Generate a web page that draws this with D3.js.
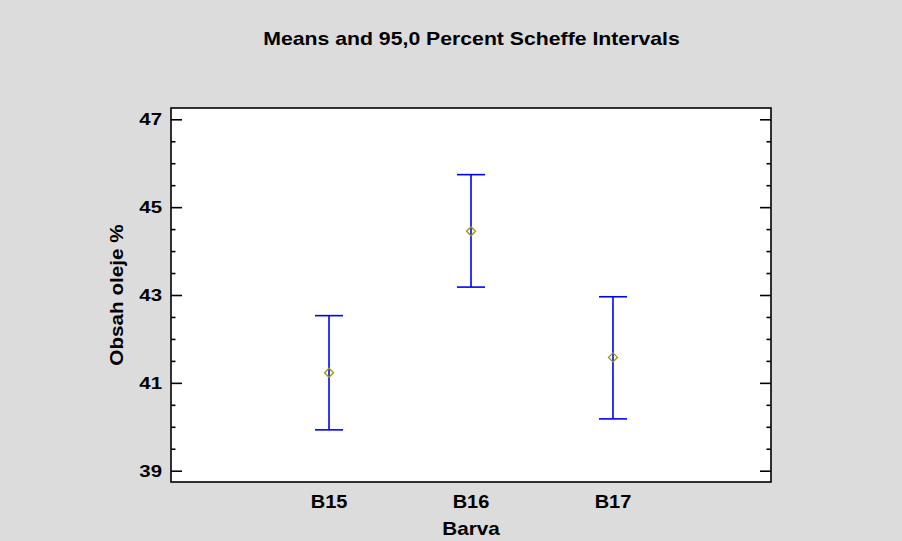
<!DOCTYPE html>
<html>
<head>
<meta charset="utf-8">
<script src="https://cdn.jsdelivr.net/npm/d3@7"></script>
<style>
  body { margin: 0; background: #dcdcdc; }
  svg { display: block; }
  text { font-family: "Liberation Sans", Arial, sans-serif; font-weight: bold; fill: #000; }
</style>
</head>
<body>
<svg id="chart" width="902" height="541"></svg>
<script>
const categories = ["B15", "B16", "B17"];
const means = [41.23, 44.45, 41.58];
const lower = [39.93, 43.18, 40.18];
const upper = [42.53, 45.74, 42.96];
const y_ticks = [39, 41, 43, 45, 47];
const y_minor = [39.5, 40, 40.5, 41.5, 42, 42.5, 43.5, 44, 44.5, 45.5, 46, 46.5];

const width = 902;
const height = 541;
const margin = { top: 108, right: 131, bottom: 59, left: 171 };

const svg = d3.select("#chart");
svg.append("rect").attr("width", width).attr("height", height).attr("fill", "#dcdcdc");

const x = d3
  .scaleLinear()
  .domain([-0.113, 4.113])
  .range([margin.left, width - margin.right]);

const y = d3
  .scaleLinear()
  .domain([38.743, 47.257])
  .range([height - margin.bottom, margin.top]);

// the original font is wider than Liberation Sans, so stretch text horizontally
function label(parent, tx, ty, str, size, sx, anchor, rotate = 0) {
  return parent
    .append("text")
    .attr("transform", `translate(${tx},${ty}) rotate(${rotate}) scale(${sx},1)`)
    .attr("text-anchor", anchor)
    .attr("font-size", size)
    .text(str);
}

// plot area
svg
  .append("rect")
  .attr("x", margin.left)
  .attr("y", margin.top)
  .attr("width", width - margin.left - margin.right)
  .attr("height", height - margin.top - margin.bottom)
  .attr("fill", "#fff")
  .attr("stroke", "#000")
  .attr("stroke-width", 1.6);

// y axes, ticks inward on both sides
const yLeft = (g, ticks, size) =>
  g.attr("transform", `translate(${margin.left},0)`).call(
    d3.axisRight(y).tickValues(ticks).tickSize(size).tickFormat("")
  );
const yRight = (g, ticks, size) =>
  g.attr("transform", `translate(${width - margin.right},0)`).call(
    d3.axisLeft(y).tickValues(ticks).tickSize(size).tickFormat("")
  );

[
  [yLeft, y_ticks, 11],
  [yLeft, y_minor, 4.5],
  [yRight, y_ticks, 11],
  [yRight, y_minor, 4.5],
].forEach(([fn, ticks, size]) => {
  const g = svg.append("g").call((s) => fn(s, ticks, size));
  g.select(".domain").remove();
  g.selectAll(".tick line").attr("stroke", "#000").attr("stroke-width", 1.6);
});

// y tick labels
const ylab = svg.append("g");
y_ticks.forEach((d) => label(ylab, margin.left - 9, y(d) + 6, d, 17, 1.2, "end"));

// x tick labels
const xlab = svg.append("g");
categories.forEach((d, i) => label(xlab, x(i + 1), 508, d, 18, 1.11, "middle"));

// titles
label(svg, 471.5, 45, "Means and 95,0 Percent Scheffe Intervals", 18, 1.18, "middle");
label(svg, 471, 535, "Barva", 18, 1.15, "middle");
label(svg, 123, (margin.top + height - margin.bottom) / 2, "Obsah oleje %", 18, 1.15, "middle", -90);

// error bars
const bars = svg
  .append("g")
  .selectAll("g")
  .data(categories)
  .join("g")
  .attr("stroke", "#0000ff")
  .attr("stroke-width", 1.6);

bars
  .append("line")
  .attr("x1", (d, i) => x(i + 1))
  .attr("x2", (d, i) => x(i + 1))
  .attr("y1", (d, i) => y(lower[i]))
  .attr("y2", (d, i) => y(upper[i]));

bars
  .append("line")
  .attr("x1", (d, i) => x(i + 1) - 14)
  .attr("x2", (d, i) => x(i + 1) + 14)
  .attr("y1", (d, i) => y(upper[i]))
  .attr("y2", (d, i) => y(upper[i]));

bars
  .append("line")
  .attr("x1", (d, i) => x(i + 1) - 14)
  .attr("x2", (d, i) => x(i + 1) + 14)
  .attr("y1", (d, i) => y(lower[i]))
  .attr("y2", (d, i) => y(lower[i]));

// mean markers
svg
  .append("g")
  .selectAll("path")
  .data(means)
  .join("path")
  .attr("transform", (d, i) => `translate(${x(i + 1)},${y(d)})`)
  .attr("d", "M0,-4.5L4.5,0L0,4.5L-4.5,0Z")
  .attr("fill", "none")
  .attr("stroke", "#999900")
  .attr("stroke-width", 1.3);
</script>
</body>
</html>
